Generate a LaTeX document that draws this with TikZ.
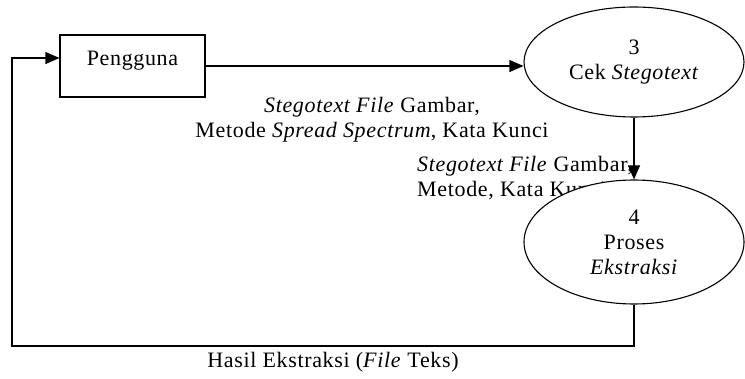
\documentclass[tikz,border=0pt]{standalone}
\usepackage{fontspec}
\setmainfont{Liberation Serif}[LetterSpace=3]
\usepackage{tikz}
\usetikzlibrary{positioning, arrows.meta, shapes.geometric}
\tikzstyle{entity}=[draw, line width=1.1pt, minimum width=145pt, minimum height=62pt, text height=15pt, text depth=15pt]
\tikzstyle{process}=[ellipse, draw, line width=1.1pt, fill=white, minimum width=220pt, minimum height=110pt, align=center, inner sep=0pt]
\tikzstyle{flow}=[line width=1.1pt]
\tikzstyle{arrow}=[->, >={Triangle[length=14pt,width=12pt]}]

\begin{document}
\begin{tikzpicture}[x=1pt, y=-1pt, font=\fontsize{22}{25}\selectfont]
      \useasboundingbox (0,0) rectangle (745,379);
      \node [entity] (user) at (132.5,66) {Pengguna};
      \node [process] (proc-3) at (634,62) {3\\Cek \textit{Stegotext}};
      \node [anchor=west, align=left, inner sep=0pt] (data-2) at (417,178) {\textit{Stegotext File} Gambar,\\Metode, Kata Kunci};
      \node [process, minimum height=124pt] (proc-4) at (634,242) {4\\Proses\\\textit{Ekstraksi}};
      \node [align=center, inner sep=0pt] (data-1) at (372,120) {\textit{Stegotext File} Gambar,\\Metode \textit{Spread Spectrum}, Kata Kunci};
      \node [inner sep=0pt] (data-3) at (333,362) {Hasil Ekstraksi (\textit{File} Teks)};

      \coordinate (corner-l) at (12,346);
      \coordinate (back) at (12,58);

      \draw [flow, arrow] (user.east) -- (user.east -| proc-3.west);
      \draw [flow, arrow] (proc-3.south) -- (proc-4.north);
      \draw [flow, arrow] (proc-4.south) |- (corner-l) -- (back) -- (back -| user.west);
    \end{tikzpicture}
\end{document}
